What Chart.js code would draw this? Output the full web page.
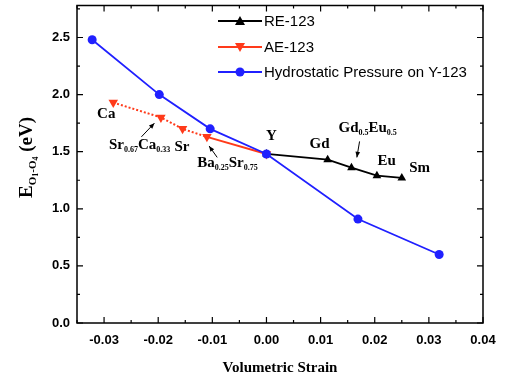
<!DOCTYPE html>
<html>
<head>
<meta charset="utf-8">
<script src="https://cdn.jsdelivr.net/npm/chart.js@4"></script>
<style>
  html, body { margin: 0; padding: 0; background: #fff; }
  #wrap { width: 505px; height: 384px; }
</style>
</head>
<body>
<div id="wrap"><canvas id="chart" width="505" height="384"></canvas></div>
<script>
// Données
const reStrain = [0.000, 0.0113, 0.0157, 0.0204, 0.0250];
const reEnergy = [1.48, 1.43, 1.36, 1.29, 1.27];

const aeStrain = [-0.0283, -0.0195, -0.0155, -0.0110, 0.000];
const aeEnergy = [1.93, 1.80, 1.70, 1.63, 1.48];

const hpStrain = [-0.0322, -0.0198, -0.0104, 0.000, 0.0169, 0.0319];
const hpEnergy = [2.48, 2.00, 1.70, 1.48, 0.91, 0.60];

const seriesNames = ['RE-123', 'AE-123', 'Hydrostatic Pressure on Y-123'];
const xTicks = [-0.03, -0.02, -0.01, 0.00, 0.01, 0.02, 0.03, 0.04];
const yTicks = [0.0, 0.5, 1.0, 1.5, 2.0, 2.5];

// Étiquettes des composés (coordonnées en unités de données)
const labels = [
  { text: 'Ca', x: -0.0296, y: 1.83, align: 'center' },
  { text: 'Sr', sub: '0.67', text2: 'Ca', sub2: '0.33', x: -0.0291, y: 1.56, align: 'left' },
  { text: 'Sr', x: -0.0156, y: 1.54, align: 'center' },
  { text: 'Ba', sub: '0.25', text2: 'Sr', sub2: '0.75', x: -0.0128, y: 1.40, align: 'left' },
  { text: 'Y', x: 0.0009, y: 1.64, align: 'center' },
  { text: 'Gd', x: 0.0098, y: 1.57, align: 'center' },
  { text: 'Gd', sub: '0.5', text2: 'Eu', sub2: '0.5', x: 0.0133, y: 1.71, align: 'left' },
  { text: 'Eu', x: 0.0222, y: 1.42, align: 'center' },
  { text: 'Sm', x: 0.0283, y: 1.36, align: 'center' }
];
const arrows = [
  { x1: -0.0231, y1: 1.63, x2: -0.0207, y2: 1.75 },
  { x1: -0.0091, y1: 1.45, x2: -0.0106, y2: 1.55 },
  { x1: 0.0172, y1: 1.59, x2: 0.0167, y2: 1.45 }
];

const BLUE = '#2020ff';
const RED = '#ff3a1a';
const BLACK = '#000000';

function toPoints(xs, ys) {
  return xs.map((x, i) => ({ x: x, y: ys[i] }));
}

// Cadre avec graduations intérieures, légende, titres et annotations
const decorPlugin = {
  id: 'decor',
  afterDraw(chart) {
    const ctx = chart.ctx;
    const a = chart.chartArea;
    const xs = chart.scales.x;
    const ys = chart.scales.y;
    ctx.save();

    // cadre
    ctx.strokeStyle = '#000';
    ctx.lineWidth = 1.5;
    ctx.strokeRect(a.left, a.top, a.right - a.left, a.bottom - a.top);

    // graduations
    ctx.lineWidth = 1.2;
    ctx.beginPath();
    for (let v = -0.035; v <= 0.0401; v += 0.005) {
      const px = xs.getPixelForValue(v);
      const major = Math.abs(Math.round(v * 100) - v * 100) < 1e-6;
      const len = major ? 6 : 3;
      ctx.moveTo(px, a.bottom); ctx.lineTo(px, a.bottom - len);
      ctx.moveTo(px, a.top); ctx.lineTo(px, a.top + len);
    }
    for (let v = 0; v <= 2.76; v += 0.25) {
      const py = ys.getPixelForValue(v);
      const major = Math.abs(Math.round(v * 2) - v * 2) < 1e-6;
      const len = major ? 6 : 3;
      ctx.moveTo(a.left, py); ctx.lineTo(a.left + len, py);
      ctx.moveTo(a.right, py); ctx.lineTo(a.right - len, py);
    }
    ctx.stroke();

    // légende
    const legendColors = [BLACK, RED, BLUE];
    const legendStyles = ['triUp', 'triDown', 'circle'];
    const rows = [21, 47, 72];
    ctx.font = '15px "Liberation Sans", Arial, sans-serif';
    ctx.textBaseline = 'middle';
    ctx.textAlign = 'left';
    for (let i = 0; i < 3; i++) {
      const y = rows[i];
      ctx.strokeStyle = legendColors[i];
      ctx.fillStyle = legendColors[i];
      ctx.lineWidth = 2;
      ctx.beginPath();
      ctx.moveTo(218, y); ctx.lineTo(262, y);
      ctx.stroke();
      drawMarker(ctx, legendStyles[i], 240, y);
      ctx.fillStyle = '#000';
      ctx.fillText(seriesNames[i], 264, y + 1);
    }

    // annotations
    ctx.fillStyle = '#000';
    ctx.textBaseline = 'middle';
    labels.forEach(l => {
      const px = xs.getPixelForValue(l.x);
      const py = ys.getPixelForValue(l.y);
      drawCompound(ctx, l, px, py);
    });
    ctx.strokeStyle = '#000';
    ctx.lineWidth = 1;
    arrows.forEach(ar => {
      const x1 = xs.getPixelForValue(ar.x1), y1 = ys.getPixelForValue(ar.y1);
      const x2 = xs.getPixelForValue(ar.x2), y2 = ys.getPixelForValue(ar.y2);
      ctx.beginPath();
      ctx.moveTo(x1, y1); ctx.lineTo(x2, y2);
      ctx.stroke();
      const ang = Math.atan2(y2 - y1, x2 - x1);
      ctx.beginPath();
      ctx.moveTo(x2, y2);
      ctx.lineTo(x2 - 6 * Math.cos(ang - 0.4), y2 - 6 * Math.sin(ang - 0.4));
      ctx.lineTo(x2 - 6 * Math.cos(ang + 0.4), y2 - 6 * Math.sin(ang + 0.4));
      ctx.closePath();
      ctx.fill();
    });

    // titre de l'axe x
    ctx.font = 'bold 15px "Liberation Serif", "Times New Roman", serif';
    ctx.textAlign = 'center';
    ctx.textBaseline = 'middle';
    ctx.fillText('Volumetric Strain', (a.left + a.right) / 2, 368);

    // titre de l'axe y : E_{O1-O4} (eV)
    const parts = [
      { t: 'E', f: 'bold 19px "Liberation Serif", serif', dy: 0 },
      { t: 'O', f: 'bold 11px "Liberation Serif", serif', dy: 6 },
      { t: '1', f: 'bold 8px "Liberation Serif", serif', dy: 9 },
      { t: '-O', f: 'bold 11px "Liberation Serif", serif', dy: 6 },
      { t: '4', f: 'bold 8px "Liberation Serif", serif', dy: 9 },
      { t: ' (eV)', f: 'bold 19px "Liberation Serif", serif', dy: 0 }
    ];
    let total = 0;
    parts.forEach(p => { ctx.font = p.f; p.w = ctx.measureText(p.t).width; total += p.w; });
    ctx.translate(27, ys.getPixelForValue(1.45));
    ctx.rotate(-Math.PI / 2);
    ctx.textAlign = 'left';
    let cx = -total / 2;
    parts.forEach(p => {
      ctx.font = p.f;
      ctx.fillText(p.t, cx, p.dy);
      cx += p.w;
    });
    ctx.restore();
  }
};

function drawMarker(ctx, style, x, y) {
  ctx.beginPath();
  if (style === 'circle') {
    ctx.arc(x, y, 4.5, 0, Math.PI * 2);
  } else if (style === 'triUp') {
    ctx.moveTo(x, y - 5); ctx.lineTo(x + 5, y + 4); ctx.lineTo(x - 5, y + 4);
  } else {
    ctx.moveTo(x, y + 5); ctx.lineTo(x + 5, y - 4); ctx.lineTo(x - 5, y - 4);
  }
  ctx.closePath();
  ctx.fill();
}

function drawCompound(ctx, l, px, py) {
  const big = 'bold 15px "Liberation Serif", "Times New Roman", serif';
  const small = 'bold 8px "Liberation Serif", "Times New Roman", serif';
  const pieces = [{ t: l.text, f: big, dy: 0 }];
  if (l.sub) pieces.push({ t: l.sub, f: small, dy: 5 });
  if (l.text2) pieces.push({ t: l.text2, f: big, dy: 0 });
  if (l.sub2) pieces.push({ t: l.sub2, f: small, dy: 5 });
  let w = 0;
  pieces.forEach(p => { ctx.font = p.f; p.w = ctx.measureText(p.t).width; w += p.w; });
  let x = l.align === 'center' ? px - w / 2 : px;
  ctx.textAlign = 'left';
  pieces.forEach(p => {
    ctx.font = p.f;
    ctx.fillText(p.t, x, py + p.dy);
    x += p.w;
  });
}

const tickFont = { family: '"Liberation Sans", Arial, sans-serif', size: 13, weight: 'bold' };

new Chart(document.getElementById('chart'), {
  type: 'line',
  data: {
    datasets: [
      {
        label: seriesNames[2],
        data: toPoints(hpStrain, hpEnergy),
        borderColor: BLUE,
        backgroundColor: BLUE,
        borderWidth: 1.8,
        pointStyle: 'circle',
        pointRadius: 4.5,
        pointBorderWidth: 0
      },
      {
        label: seriesNames[1],
        data: toPoints(aeStrain, aeEnergy),
        borderColor: RED,
        backgroundColor: RED,
        borderWidth: 2,
        pointStyle: 'triangle',
        rotation: 180,
        pointRadius: 5.5,
        pointBorderWidth: 0,
        segment: {
          borderDash: c => (c.p1DataIndex <= 3 ? [2, 2] : undefined)
        }
      },
      {
        label: seriesNames[0],
        data: toPoints(reStrain, reEnergy),
        borderColor: BLACK,
        backgroundColor: BLACK,
        borderWidth: 1.8,
        pointStyle: 'triangle',
        pointRadius: 5,
        pointBorderWidth: 0
      }
    ]
  },
  options: {
    responsive: false,
    animation: false,
    layout: { padding: { top: 5, right: 22, left: 0, bottom: 0 } },
    plugins: {
      legend: { display: false },
      tooltip: { enabled: false }
    },
    scales: {
      x: {
        type: 'linear',
        min: -0.035,
        max: 0.04,
        grid: { display: false, drawTicks: false },
        border: { display: false },
        afterBuildTicks: s => { s.ticks = xTicks.map(v => ({ value: v })); },
        afterFit: s => { s.height = 61; s.paddingLeft = 0; s.paddingRight = 0; },
        ticks: {
          font: tickFont,
          color: '#000',
          padding: 10,
          maxRotation: 0,
          callback: v => v.toFixed(2)
        }
      },
      y: {
        min: 0,
        max: 2.78,
        grid: { display: false, drawTicks: false },
        border: { display: false },
        afterBuildTicks: s => { s.ticks = yTicks.map(v => ({ value: v })); },
        afterFit: s => { s.width = 77; s.paddingTop = 0; s.paddingBottom = 0; },
        ticks: {
          font: tickFont,
          color: '#000',
          padding: 7,
          callback: v => v.toFixed(1)
        }
      }
    }
  },
  plugins: [decorPlugin]
});
</script>
</body>
</html>
